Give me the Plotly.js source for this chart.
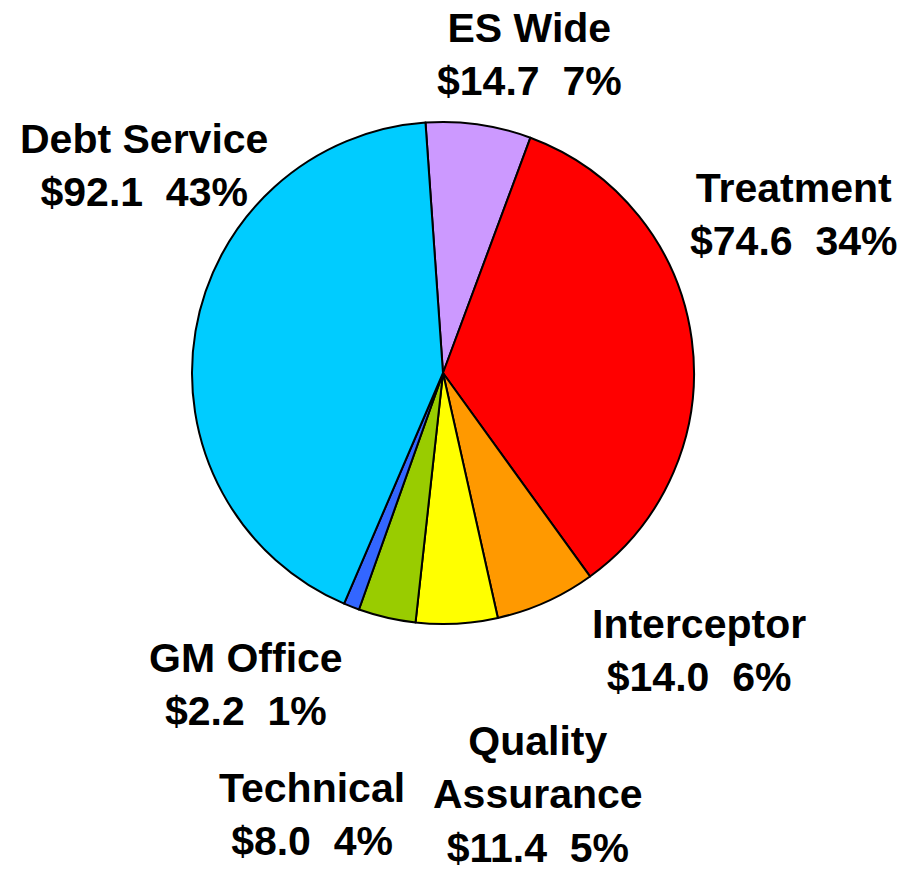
<!DOCTYPE html>
<html>
<head>
<meta charset="utf-8">
<script src="https://cdn.plot.ly/plotly-3.0.1.min.js"></script>
<style>html,body{margin:0;padding:0;background:#fff;}#chart{width:910px;height:870px;}</style>
</head>
<body>
<div id="chart"></div>
<script>
var categories = ["ES Wide", "Treatment", "Interceptor", "Quality Assurance", "Technical", "GM Office", "Debt Service"];
var displayNames = ["ES Wide", "Treatment", "Interceptor", "Quality<br>Assurance", "Technical", "GM Office", "Debt Service"];
var amounts = [14.7, 74.6, 14.0, 11.4, 8.0, 2.2, 92.1];
var percentLabels = ["7%", "34%", "6%", "5%", "4%", "1%", "43%"];
var colors = ["#CC99FF", "#FF0000", "#FF9900", "#FFFF00", "#99CC00", "#3366FF", "#00CCFF"];
// label anchor positions in pixels (layout only)
var labelPos = [[529, 55], [793, 215], [699, 650], [538, 794], [312, 814], [246, 684], [144, 165]];

var W = 910, H = 870;
var cx = 443, cy = 373, r = 251;

var trace = {
  type: "pie",
  labels: categories,
  values: amounts,
  sort: false,
  direction: "clockwise",
  rotation: -4,
  textinfo: "none",
  hoverinfo: "label+value+percent",
  marker: { colors: colors, line: { color: "#000000", width: 2 } },
  domain: { x: [(cx - r) / W, (cx + r) / W], y: [1 - (cy + r) / H, 1 - (cy - r) / H] },
  showlegend: false
};

var annotations = categories.map(function(c, i){
  return {
    xref: "paper", yref: "paper",
    x: labelPos[i][0] / W, y: 1 - labelPos[i][1] / H,
    xanchor: "center", yanchor: "middle",
    showarrow: false,
    align: "center",
    text: "<b>" + displayNames[i] + "<br>$" + amounts[i].toFixed(1) + "  " + percentLabels[i] + "</b>",
    font: { family: "Liberation Sans, Arial, sans-serif", size: 41, color: "#000000" }
  };
});

var layout = {
  width: W, height: H,
  margin: { l: 0, r: 0, t: 0, b: 0 },
  paper_bgcolor: "#ffffff",
  plot_bgcolor: "#ffffff",
  showlegend: false,
  annotations: annotations
};

Plotly.newPlot("chart", [trace], layout, { displayModeBar: false, staticPlot: true });
</script>
</body>
</html>
